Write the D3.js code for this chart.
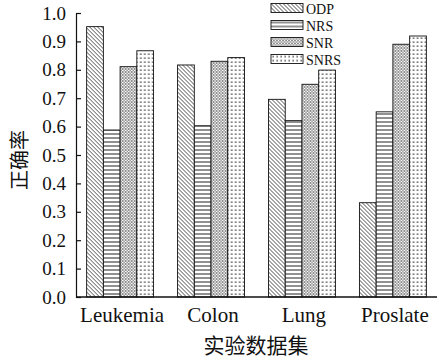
<!DOCTYPE html>
<html>
<head>
<meta charset="utf-8">
<script src="https://cdn.jsdelivr.net/npm/d3@7/dist/d3.min.js"></script>
<style>
  body { margin: 0; background: #fff; }
  svg { display: block; }
</style>
</head>
<body>
<svg id="chart"></svg>
<script>
// data
var categories = ["Leukemia", "Colon", "Lung", "Proslate"];
var seriesNames = ["ODP", "NRS", "SNR", "SNRS"];
var odp  = [0.952, 0.817, 0.696, 0.332];
var nrs  = [0.588, 0.603, 0.621, 0.652];
var snr  = [0.811, 0.830, 0.749, 0.890];
var snrs = [0.867, 0.843, 0.799, 0.919];
var yTicks = [0, 0.1, 0.2, 0.3, 0.4, 0.5, 0.6, 0.7, 0.8, 0.9, 1.0];

var values = [odp, nrs, snr, snrs];

var width = 437, height = 358;
// plot edges (don't call these "top" - window.top is read only)
var plotLeft = 76, plotRight = 437, plotTop = 13, plotBottom = 297;

var svg = d3.select("#chart")
    .attr("width", width)
    .attr("height", height);

// hatch patterns for the four series
var defs = svg.append("defs");

var p1 = defs.append("pattern").attr("id", "pat0")
    .attr("patternUnits", "userSpaceOnUse").attr("width", 4).attr("height", 4);
p1.append("rect").attr("width", 4).attr("height", 4).attr("fill", "#fff");
p1.append("path").attr("d", "M-1,-1 L5,5 M-1,3 L1,5 M3,-1 L5,1")
    .attr("stroke", "#222").attr("stroke-width", 0.8);

var p2 = defs.append("pattern").attr("id", "pat1")
    .attr("patternUnits", "userSpaceOnUse").attr("width", 4).attr("height", 4);
p2.append("rect").attr("width", 4).attr("height", 4).attr("fill", "#fff");
p2.append("path").attr("d", "M0,2 L4,2")
    .attr("stroke", "#222").attr("stroke-width", 1);

var p3 = defs.append("pattern").attr("id", "pat2")
    .attr("patternUnits", "userSpaceOnUse").attr("width", 3).attr("height", 3);
p3.append("rect").attr("width", 3).attr("height", 3).attr("fill", "#fff");
p3.append("path").attr("d", "M0,0 L3,3 M3,0 L0,3")
    .attr("stroke", "#444").attr("stroke-width", 0.6);

var p4 = defs.append("pattern").attr("id", "pat3")
    .attr("patternUnits", "userSpaceOnUse").attr("width", 4).attr("height", 4);
p4.append("rect").attr("width", 4).attr("height", 4).attr("fill", "#fff");
p4.append("rect").attr("x", 1.5).attr("y", 1.5).attr("width", 1.3).attr("height", 1.3)
    .attr("fill", "#111");

// scales
var x = d3.scaleBand()
    .domain(categories)
    .range([plotLeft, plotRight])
    .paddingInner(0.264)
    .paddingOuter(0.117);

var xs = d3.scaleBand()
    .domain(seriesNames)
    .range([0, x.bandwidth()]);

var y = d3.scaleLinear()
    .domain([0, 1])
    .range([plotBottom, plotTop]);

// bars
var groups = svg.selectAll("g.group")
    .data(categories)
    .enter()
    .append("g")
    .attr("class", "group")
    .attr("transform", function(d){
        return "translate(" + x(d) + ",0)";
    });

groups.selectAll("rect")
    .data(function(d, i){
        return seriesNames.map(function(s, j){
            return { s: s, j: j, v: values[j][i] };
        });
    })
    .enter()
    .append("rect")
    .attr("x", function(d){ return xs(d.s); })
    .attr("y", function(d){ return y(d.v); })
    .attr("width", xs.bandwidth())
    .attr("height", function(d){ return plotBottom - y(d.v); })
    .attr("fill", function(d){ return "url(#pat" + d.j + ")"; })
    .attr("stroke", "#111")
    .attr("stroke-width", 0.9);

// y axis, ticks pointing inward
var yAxis = d3.axisLeft(y)
    .tickValues(yTicks)
    .tickFormat(d3.format(".1f"))
    .tickSize(-5)
    .tickSizeOuter(0)
    .tickPadding(10);

var gy = svg.append("g")
    .attr("transform", "translate(" + plotLeft + ",0)")
    .attr("font-family", "'Liberation Serif', serif")
    .call(yAxis);
gy.attr("font-family", "'Liberation Serif', serif").attr("font-size", 19);
gy.selectAll("text").attr("fill", "#111");
gy.selectAll("line, path").attr("stroke", "#111").attr("stroke-width", 1.2);

// x axis line
svg.append("line")
    .attr("x1", plotLeft).attr("x2", plotRight)
    .attr("y1", plotBottom).attr("y2", plotBottom)
    .attr("stroke", "#111")
    .attr("stroke-width", 1.6);

// category labels
svg.selectAll("text.cat")
    .data(categories)
    .enter()
    .append("text")
    .attr("class", "cat")
    .attr("x", function(d){ return x(d) + x.bandwidth() / 2 + 2; })
    .attr("y", 322)
    .attr("text-anchor", "middle")
    .attr("font-family", "'Liberation Serif', serif")
    .attr("font-size", 21)
    .attr("fill", "#111")
    .text(function(d){ return d; });

// axis titles
svg.append("text")
    .attr("x", 256)
    .attr("y", 353)
    .attr("text-anchor", "middle")
    .attr("font-family", "'Noto Sans CJK SC', sans-serif")
    .attr("font-size", 21)
    .attr("fill", "#111")
    .text("实验数据集");

svg.append("text")
    .attr("transform", "translate(27,160) rotate(-90)")
    .attr("text-anchor", "middle")
    .attr("font-family", "'Noto Sans CJK SC', sans-serif")
    .attr("font-size", 20)
    .attr("fill", "#111")
    .text("正确率");

// legend
var legend = svg.selectAll("g.legend")
    .data(seriesNames)
    .enter()
    .append("g")
    .attr("class", "legend")
    .attr("transform", function(d, i){
        return "translate(271," + (3.5 + i * 17) + ")";
    });

legend.append("rect")
    .attr("width", 32)
    .attr("height", 9)
    .attr("fill", function(d, i){ return "url(#pat" + i + ")"; })
    .attr("stroke", "#111")
    .attr("stroke-width", 0.9);

legend.append("text")
    .attr("x", 35)
    .attr("y", 10)
    .attr("font-family", "'Liberation Serif', serif")
    .attr("font-size", 14)
    .attr("fill", "#111")
    .text(function(d){ return d; });
</script>
</body>
</html>
